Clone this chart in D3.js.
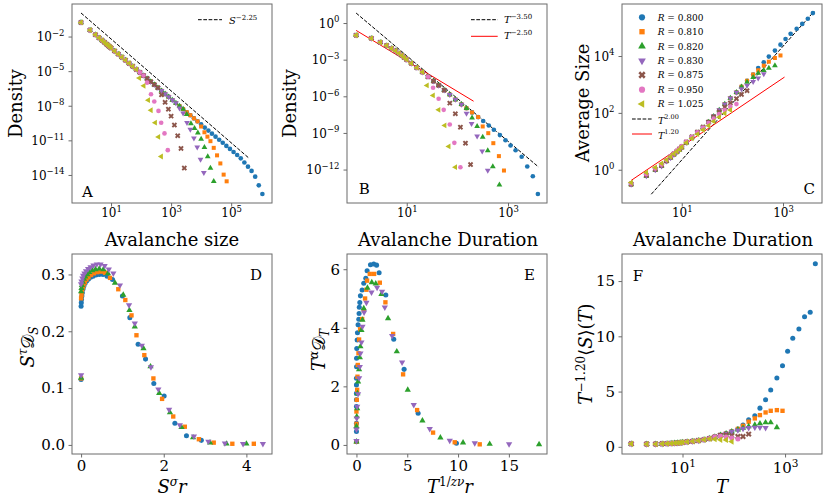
<!DOCTYPE html>
<html>
<head>
<meta charset="utf-8">
<script src="https://d3js.org/d3.v7.min.js"></script>
<style>
  body { margin: 0; background: #ffffff; }
</style>
</head>
<body>
<svg id="mainsvg" width="828" height="504" font-family="'DejaVu Serif', serif" style="background-color: #ffffff;"></svg>
<script>
// ---------------- data ----------------
const rLabels = ['0.800', '0.810', '0.820', '0.830', '0.875', '0.950', '1.025'];

// A: log10 avalanche size bins and log10 density of R = 0.800 (the longest curve)
const aLogSize = [0, 0.30, 0.48, 0.60, 0.70, 0.78, 0.85, 0.90, 0.95, 1.00,
  1.12, 1.24, 1.36, 1.48, 1.60, 1.72, 1.84, 1.96, 2.08, 2.20, 2.32, 2.44, 2.56, 2.68, 2.80,
  2.92, 3.04, 3.16, 3.28, 3.40, 3.52, 3.64, 3.76, 3.88, 4.00, 4.12, 4.24, 4.36, 4.48, 4.60,
  4.72, 4.84, 4.96, 5.08, 5.20, 5.32, 5.44, 5.56, 5.68, 5.80, 5.92, 6.04];
const aLogDensity = [-0.78, -1.44, -1.84, -2.11, -2.33, -2.50, -2.66, -2.77, -2.88, -2.99,
  -3.26, -3.52, -3.79, -4.05, -4.32, -4.58, -4.85, -5.11, -5.38, -5.64, -5.91, -6.17, -6.44, -6.70, -6.97,
  -7.23, -7.50, -7.76, -8.03, -8.29, -8.56, -8.82, -9.09, -9.35, -9.62, -9.89, -10.15, -10.42, -10.68, -10.95,
  -11.21, -11.48, -11.74, -12.01, -12.27, -12.56, -12.92, -13.28, -13.65, -14.15, -14.90, -15.65];
// how many bins of the common curve each R shares, then its own cut-off points [logS, logP]
const aKeep = [52, 34, 30, 28, 23, 19, 17];
const aTails = [
  [],
  [[4.00, -9.80], [4.11, -10.30], [4.21, -10.68], [4.31, -11.07], [4.42, -11.65], [4.53, -12.30], [4.64, -13.00], [4.75, -13.97], [4.85, -14.55]],
  [[3.52, -8.75], [3.66, -9.55], [3.78, -9.95], [3.89, -10.35], [4.00, -10.90], [4.11, -11.60], [4.22, -12.40], [4.31, -13.40], [4.42, -14.55]],
  [[3.28, -8.20], [3.40, -8.65], [3.53, -9.47], [3.64, -10.05], [3.76, -10.80], [3.87, -11.60], [3.98, -12.66], [4.09, -13.80]],
  [[2.68, -7.05], [2.80, -7.70], [2.91, -8.30], [3.00, -8.90], [3.11, -9.67], [3.22, -10.60], [3.33, -11.70], [3.44, -13.40]],
  [[2.20, -6.00], [2.33, -7.00], [2.44, -7.63], [2.58, -8.45], [2.67, -9.47], [2.78, -10.40], [2.89, -11.85]],
  [[1.94, -5.60], [2.09, -6.27], [2.24, -7.52], [2.33, -8.39], [2.47, -9.47], [2.58, -10.70], [2.67, -12.40]]
];

// B, C, F share the log10 duration bins
const logDurBins = [0, 0.301, 0.477, 0.602, 0.699, 0.778, 0.845, 0.903, 0.954, 1.0,
  1.09, 1.20, 1.31, 1.42, 1.53, 1.63, 1.74, 1.85, 1.96, 2.08, 2.18, 2.29, 2.41, 2.51,
  2.62, 2.72, 2.84, 2.95, 3.05, 3.15, 3.27, 3.38, 3.49, 3.59];

// B: log10 duration density, R = 0.800
const bLogDensity = [-1.00, -1.25, -1.58, -1.84, -2.08, -2.28, -2.48, -2.65, -2.83, -3.00,
  -3.30, -3.66, -4.02, -4.40, -4.76, -5.10, -5.50, -5.86, -6.26, -6.66, -6.98, -7.32, -7.70, -8.02,
  -8.39, -8.74, -9.18, -9.60, -10.03, -10.42, -10.95, -11.75, -12.55, -14.00];
const bKeep = [34, 23, 21, 20, 17, 14, 13];
const bTails = [
  [],
  [[2.50, -8.47], [2.61, -9.02], [2.71, -9.84], [2.82, -10.90], [2.92, -12.08]],
  [[2.29, -7.76], [2.39, -8.47], [2.50, -9.35], [2.60, -10.44], [2.70, -11.75], [2.83, -13.25]],
  [[2.18, -7.40], [2.28, -8.25], [2.39, -9.27], [2.49, -10.50], [2.60, -12.08]],
  [[1.85, -6.56], [1.96, -7.43], [2.06, -8.53], [2.16, -9.84], [2.26, -11.59]],
  [[1.52, -5.30], [1.63, -6.20], [1.73, -7.11], [1.85, -8.31], [1.94, -9.81], [2.06, -11.81]],
  [[1.40, -5.11], [1.52, -5.93], [1.63, -7.11], [1.75, -8.39], [1.83, -10.11], [1.96, -11.81]]
];

// C: log10 average size per duration bin, R = 0.800; other R share the first cKeep bins
const cLogSize = [-0.52, -0.22, -0.01, 0.13, 0.30, 0.42, 0.53, 0.62, 0.70, 0.78,
  0.95, 1.13, 1.30, 1.48, 1.68, 1.88, 2.10, 2.31, 2.52, 2.72, 2.92, 3.13, 3.35, 3.58,
  3.78, 3.98, 4.19, 4.40, 4.60, 4.78, 4.96, 5.13, 5.31, 5.51];
const cKeep = [34, 22, 21, 20, 0, 0, 0];
const cTailVals = [
  [],
  [3.35, 3.50, 3.66, 3.80, 3.93, 4.02],
  [3.08, 3.25, 3.40, 3.50, 3.58, 3.66],
  [2.84, 2.97, 3.10, 3.22, 3.37],
  [-0.50, -0.19, 0.02, 0.16, 0.32, 0.45, 0.56, 0.65, 0.73, 0.81, 0.98, 1.16, 1.33, 1.50, 1.68, 1.86, 2.04, 2.20, 2.35, 2.50, 2.65, 2.78],
  [-0.48, -0.16, 0.04, 0.18, 0.34, 0.47, 0.58, 0.67, 0.75, 0.83, 0.99, 1.16, 1.32, 1.48, 1.64, 1.80, 1.96, 2.10, 2.22, 2.31],
  [-0.45, -0.10, 0.08, 0.22, 0.35, 0.46, 0.56, 0.64, 0.72, 0.80, 0.95, 1.10, 1.25, 1.40, 1.55, 1.70, 1.85, 1.98, 2.10]
];

// F: T^-1.20 <S>(T), R = 0.800, and the cut-offs of the others
const fScaled = [0.27, 0.25, 0.25, 0.27, 0.29, 0.31, 0.33, 0.35, 0.37, 0.40,
  0.45, 0.50, 0.57, 0.65, 0.76, 0.90, 1.05, 1.20, 1.38, 1.62, 1.98, 2.45, 2.81, 3.50,
  4.26, 5.14, 6.22, 7.34, 8.64, 9.82, 10.66, 11.78, 12.18, 16.56];
const fKeep = [34, 20, 19, 19, 17, 16, 14];
const fTailVals = [
  [],
  [1.90, 2.27, 2.57, 2.87, 3.11, 3.26, 3.32, 3.26],
  [1.55, 1.70, 1.85, 1.99, 2.11, 2.20, 2.20, 1.75],
  [1.50, 1.65, 1.72, 1.75, 1.75, 1.72],
  [1.08, 1.00, 0.94, 0.94, 1.15],
  [0.95, 0.88, 0.79, 0.70],
  [0.72, 0.69, 0.64, 0.62, 0.48]
];

// D: size collapse [S^sigma r, S^tau D_S] for the first four R
const dSeries = [
  [[0, 0.115], [0, 0.244], [0.005, 0.250], [0.01, 0.256], [0.02, 0.262], [0.03, 0.268], [0.05, 0.275], [0.07, 0.280], [0.10, 0.285], [0.14, 0.289], [0.18, 0.292], [0.23, 0.295], [0.29, 0.297], [0.36, 0.299], [0.44, 0.300], [0.53, 0.300], [0.63, 0.297], [0.76, 0.291], [1.00, 0.262], [1.18, 0.224], [1.38, 0.177], [1.56, 0.151], [1.76, 0.108], [2.01, 0.086], [2.27, 0.038], [2.55, 0.016], [2.91, 0.008]],
  [[0, 0.117], [0, 0.258], [0.01, 0.264], [0.02, 0.270], [0.04, 0.276], [0.06, 0.281], [0.09, 0.286], [0.13, 0.291], [0.18, 0.295], [0.24, 0.299], [0.31, 0.302], [0.39, 0.304], [0.48, 0.305], [0.58, 0.303], [0.70, 0.294], [0.90, 0.274], [1.07, 0.255], [1.22, 0.228], [1.34, 0.193], [1.53, 0.158], [1.75, 0.117], [1.96, 0.081], [2.23, 0.050], [2.51, 0.032], [2.85, 0.010], [3.21, 0.004], [3.66, 0.002], [4.18, 0.002]],
  [[0, 0.118], [0, 0.270], [0.01, 0.276], [0.02, 0.281], [0.04, 0.287], [0.07, 0.292], [0.10, 0.296], [0.15, 0.300], [0.20, 0.304], [0.27, 0.307], [0.35, 0.309], [0.44, 0.310], [0.54, 0.309], [0.65, 0.302], [0.82, 0.285], [1.02, 0.264], [1.17, 0.237], [1.30, 0.208], [1.51, 0.170], [1.68, 0.138], [1.89, 0.091], [2.15, 0.057], [2.43, 0.031], [2.71, 0.013], [3.12, 0.004], [3.52, 0.002], [4.00, 0.002]],
  [[0, 0.123], [0, 0.283], [0.01, 0.288], [0.03, 0.293], [0.05, 0.298], [0.08, 0.302], [0.12, 0.306], [0.17, 0.310], [0.23, 0.313], [0.30, 0.316], [0.38, 0.318], [0.47, 0.318], [0.57, 0.315], [0.67, 0.309], [0.78, 0.302], [0.94, 0.281], [1.16, 0.246], [1.30, 0.214], [1.47, 0.175], [1.69, 0.137], [1.87, 0.098], [2.13, 0.062], [2.39, 0.035], [2.73, 0.015], [3.08, 0.006], [3.48, 0.003], [3.92, 0.002], [4.40, 0.002]]
];

// E: duration collapse [T^(1/z nu) r, T^alpha D_T]
const eSeries = [
  [[0, 0.11], [0, 0.46], [0, 0.74], [0, 1.31], [0, 1.54], [0, 1.76], [0, 2.05], [0, 2.28], [0.01, 2.67], [0.01, 2.96], [0.03, 3.29], [0.07, 3.58], [0.10, 3.83], [0.16, 4.10], [0.23, 4.29], [0.26, 4.49], [0.28, 4.70], [0.33, 4.86], [0.39, 5.09], [0.56, 5.29], [0.72, 5.52], [0.92, 5.69], [1.05, 5.95], [1.38, 6.15], [1.70, 6.18], [1.98, 6.14], [2.23, 5.88], [2.89, 5.12], [3.67, 3.61], [4.69, 2.58], [6.07, 1.08], [9.84, 0.06]],
  [[0, 0.11], [0, 0.72], [0, 1.14], [0.03, 1.54], [0.07, 1.88], [0.10, 2.33], [0.13, 2.73], [0.20, 3.13], [0.26, 3.60], [0.36, 3.95], [0.56, 4.30], [0.72, 4.60], [0.85, 5.00], [0.98, 5.30], [1.05, 5.61], [1.31, 5.84], [1.74, 5.84], [2.30, 5.54], [2.85, 4.87], [3.61, 3.79], [4.59, 2.41], [5.97, 1.19], [7.54, 0.42], [9.67, 0.09], [12.13, 0.02]],
  [[0, 0.11], [0, 0.63], [0.03, 0.97], [0.07, 1.25], [0.10, 1.76], [0.16, 2.16], [0.26, 2.58], [0.33, 2.99], [0.39, 3.36], [0.49, 3.92], [0.59, 4.27], [0.72, 4.66], [1.08, 5.36], [1.51, 5.55], [1.90, 5.51], [2.46, 5.15], [3.11, 4.32], [3.97, 3.19], [5.05, 1.88], [6.49, 0.83], [8.26, 0.25], [10.49, 0.08], [13.11, 0.03], [17.97, 0.02]],
  [[0, 0.14], [0, 0.53], [0.03, 0.91], [0.07, 1.31], [0.16, 1.74], [0.26, 2.28], [0.33, 2.67], [0.39, 3.13], [0.49, 3.50], [0.59, 4.04], [0.75, 4.53], [0.98, 4.86], [1.48, 5.21], [2.03, 5.37], [2.52, 5.24], [2.79, 4.70], [3.51, 3.73], [4.49, 2.82], [5.64, 1.37], [7.21, 0.55], [9.18, 0.15], [11.64, 0.06], [15.02, 0.03]]
];

// guide power laws: [prefactor, exponent, x from, x to]
const guideA = [1.1, -2.25, 1, 3.7e5];
const guideB = [[6.6, -3.5, 1, 4.0e3], [0.25, -2.5, 1, 209]];
const guideC = [[0.022, 2.0, 2.5, 4.1e3], [0.42, 1.2, 1, 1070]];

// ---------------- style ----------------
const svg = d3.select('#mainsvg');
const seriesColors = ['#1f77b4', '#ff7f0e', '#2ca02c', '#9467bd', '#8c564b', '#e377c2', '#bcbd22'];
const markerTypes = [d3.symbolCircle, d3.symbolSquare, d3.symbolTriangle, d3.symbolTriangle, d3.symbolCross, d3.symbolCircle, d3.symbolTriangle];
const markerRotate = [0, 0, 0, 180, 45, 0, -90];
const markerScale = [1, 0.95, 0.85, 0.85, 1.1, 1, 0.85];
const frameColor = '#6b6b6b';
const W = 200;
const topBox = {top: 4, h: 199};
const botBox = {top: 254, h: 200};
const labelSize = 18;   // axis titles
const supSize = 12;     // exponents inside axis titles

function panel(left, box) {
  return svg.append('g').attr('transform', `translate(${left},${box.top})`);
}

function frame(g, h) {
  g.append('rect').attr('width', W).attr('height', h)
    .attr('fill', 'none').attr('stroke', frameColor).attr('stroke-width', 1);
}

function scatter(g, pts, i, xs, ys, area) {
  const sym = d3.symbol().type(markerTypes[i]).size(area * markerScale[i]);
  g.append('g').selectAll('path').data(pts).join('path')
    .attr('d', sym)
    .attr('transform', d => `translate(${xs(d[0])},${ys(d[1])}) rotate(${markerRotate[i]})`)
    .attr('fill', seriesColors[i]);
}

function cleanAxis(a) {
  a.attr('font-family', null).attr('font-size', null);
  a.select('.domain').remove();
  a.selectAll('.tick line').attr('stroke', frameColor);
}

function powLabel(t, v, sfs, supDy) {
  const e = Math.round(Math.log10(v));
  t.append('tspan').text('10');
  t.append('tspan').attr('font-size', sfs).attr('dy', supDy).text(e < 0 ? '\u2212' + (-e) : String(e));
}

function logX(g, xs, h, exps, fs, sfs, base, supDy) {
  const ag = g.append('g').attr('transform', `translate(0,${h})`)
    .call(d3.axisBottom(xs).tickValues(exps.map(e => Math.pow(10, e))).tickSize(3.5).tickFormat(() => ''));
  cleanAxis(ag);
  ag.selectAll('.tick text').remove();
  ag.selectAll('.tick').append('text')
    .attr('text-anchor', 'middle').attr('y', base).attr('font-size', fs).attr('fill', '#000')
    .each(function (d) { powLabel(d3.select(this), d, sfs, supDy); });
}

function logY(g, ys, exps, fs, sfs, supDy) {
  const ag = g.append('g')
    .call(d3.axisLeft(ys).tickValues(exps.map(e => Math.pow(10, e))).tickSize(3.5).tickFormat(() => ''));
  cleanAxis(ag);
  ag.selectAll('.tick text').remove();
  ag.selectAll('.tick').append('text')
    .attr('text-anchor', 'end').attr('x', -7.5).attr('y', 4.3).attr('font-size', fs).attr('fill', '#000')
    .each(function (d) { powLabel(d3.select(this), d, sfs, supDy); });
}

function linAxes(g, xs, ys, h, xt, yt, xfmt, yfmt) {
  const xa = g.append('g').attr('transform', `translate(0,${h})`)
    .call(d3.axisBottom(xs).tickValues(xt).tickSize(3.5).tickPadding(3).tickFormat(xfmt));
  const ya = g.append('g')
    .call(d3.axisLeft(ys).tickValues(yt).tickSize(3.5).tickPadding(3.5).tickFormat(yfmt));
  [xa, ya].forEach(a => {
    cleanAxis(a);
    a.selectAll('.tick text').attr('font-size', 15).attr('fill', '#000');
  });
}

// rich text: parts = [{t, i (italic), fs, dy}]
function rich(x, y, parts, size, anchor, rotate) {
  const t = svg.append('text').attr('font-size', size).attr('text-anchor', anchor || 'middle')
    .attr('transform', `translate(${x},${y})` + (rotate ? ' rotate(-90)' : ''));
  parts.forEach(p => {
    const s = t.append('tspan').text(p.t);
    if (p.i) s.attr('font-style', 'italic');
    if (p.fs) s.attr('font-size', p.fs);
    if (p.dy) s.attr('dy', p.dy);
  });
  return t;
}

function guide(g, xs, ys, gd, color, dash) {
  const [c, k, x0, x1] = gd;
  g.append('path')
    .attr('d', d3.line()([[xs(x0), ys(c * Math.pow(x0, k))], [xs(x1), ys(c * Math.pow(x1, k))]]))
    .attr('stroke', color).attr('stroke-width', 1).attr('fill', 'none')
    .attr('stroke-dasharray', dash ? '3.7,1.6' : null);
}

function legendLine(g, x0, x1, y, color, dash, textX, base, letter, sup, fs, sfs) {
  g.append('line').attr('x1', x0).attr('x2', x1).attr('y1', y).attr('y2', y)
    .attr('stroke', color).attr('stroke-width', 1).attr('stroke-dasharray', dash ? '3.7,1.6' : null);
  const t = g.append('text').attr('x', textX).attr('y', base).attr('font-size', fs);
  t.append('tspan').attr('font-style', 'italic').text(letter);
  t.append('tspan').attr('font-size', sfs).attr('dy', -4.5).text(sup);
}

const pow10 = p => [Math.pow(10, p[0]), Math.pow(10, p[1])];

// ---------------- A ----------------
{
  const g = panel(72, topBox);
  const xs = d3.scaleLog().domain([Math.pow(10, -0.30), Math.pow(10, 6.36)]).range([0, W]);
  const ys = d3.scaleLog().domain([Math.pow(10, -16.43), Math.pow(10, 0.82)]).range([topBox.h, 0]);
  guide(g, xs, ys, guideA, '#000', true);
  rLabels.forEach((r, i) => {
    const pts = aLogSize.slice(0, aKeep[i]).map((s, j) => [s, aLogDensity[j]]).concat(aTails[i]);
    scatter(g, pts.map(pow10), i, xs, ys, 17);
  });
  logX(g, xs, topBox.h, [1, 3, 5], 12, 8.5, 13.5, -4.5);
  logY(g, ys, [-2, -5, -8, -11, -14], 12, 8.5, -5.5);
  legendLine(g, 126, 150, 15.7, '#000', true, 157, 20.3, 'S', '\u22122.25', 10, 7);
  g.append('text').attr('x', 10).attr('y', 192.7).attr('font-size', 15).text('A');
  frame(g, topBox.h);
  rich(22, 103.5, [{t: 'Density'}], labelSize, 'middle', true);
  rich(172, 246, [{t: 'Avalanche size'}], labelSize);
}

// ---------------- B ----------------
{
  const g = panel(347, topBox);
  const xs = d3.scaleLog().domain([Math.pow(10, -0.18), Math.pow(10, 3.77)]).range([0, W]);
  const ys = d3.scaleLog().domain([Math.pow(10, -14.74), Math.pow(10, 1.56)]).range([topBox.h, 0]);
  guide(g, xs, ys, guideB[0], '#000', true);
  guide(g, xs, ys, guideB[1], '#ff0000', false);
  rLabels.forEach((r, i) => {
    const pts = logDurBins.slice(0, bKeep[i]).map((t, j) => [t, bLogDensity[j]]).concat(bTails[i]);
    scatter(g, pts.map(pow10), i, xs, ys, 17);
  });
  logX(g, xs, topBox.h, [1, 3], 12, 8.5, 13.5, -4.5);
  logY(g, ys, [0, -3, -6, -9, -12], 12, 8.5, -5.5);
  legendLine(g, 124, 150.7, 15.7, '#000', true, 157, 19.3, 'T', '\u22123.50', 10, 7);
  legendLine(g, 124, 150.7, 32.3, '#ff0000', false, 157, 35, 'T', '\u22122.50', 10, 7);
  g.append('text').attr('x', 11.7).attr('y', 190).attr('font-size', 15).text('B');
  frame(g, topBox.h);
  rich(296, 103.5, [{t: 'Density'}], labelSize, 'middle', true);
  rich(448, 246, [{t: 'Avalanche Duration'}], labelSize);
}

// ---------------- C ----------------
{
  const g = panel(622, topBox);
  const xs = d3.scaleLog().domain([Math.pow(10, -0.18), Math.pow(10, 3.77)]).range([0, W]);
  const ys = d3.scaleLog().domain([Math.pow(10, -1.17), Math.pow(10, 5.83)]).range([topBox.h, 0]);
  guide(g, xs, ys, guideC[0], '#000', true);
  guide(g, xs, ys, guideC[1], '#ff0000', false);
  rLabels.forEach((r, i) => {
    const head = logDurBins.slice(0, cKeep[i]).map((t, j) => [t, cLogSize[j]]);
    const tail = cTailVals[i].map((v, j) => [logDurBins[cKeep[i] + j], v]);
    scatter(g, head.concat(tail).map(pow10), i, xs, ys, 17);
  });
  logX(g, xs, topBox.h, [1, 3], 12, 8.5, 13.5, -4.5);
  logY(g, ys, [0, 2, 4], 12, 8.5, -5.5);
  // legend
  const rowY = [13.3, 27.7, 42.3, 56.7, 71, 85.7, 100];
  rLabels.forEach((r, i) => {
    g.append('path')
      .attr('d', d3.symbol().type(markerTypes[i]).size(30 * markerScale[i]))
      .attr('transform', `translate(20,${rowY[i]}) rotate(${markerRotate[i]})`)
      .attr('fill', seriesColors[i]);
    const t = g.append('text').attr('x', 35.7).attr('y', rowY[i] + 3.4).attr('font-size', 9);
    t.append('tspan').attr('font-style', 'italic').text('R');
    t.append('tspan').text(' = ' + r);
  });
  legendLine(g, 10, 30, 115, '#000', true, 36, 119.5, 'T', '2.00', 9.5, 6.5);
  legendLine(g, 10, 30, 130, '#ff0000', false, 36, 134.5, 'T', '1.20', 9.5, 6.5);
  g.append('text').attr('x', 193).attr('y', 190).attr('font-size', 15).attr('text-anchor', 'end').text('C');
  frame(g, topBox.h);
  rich(589, 103, [{t: 'Average Size'}], labelSize, 'middle', true);
  rich(723, 246, [{t: 'Avalanche Duration'}], labelSize);
}

// ---------------- D ----------------
{
  const g = panel(72, botBox);
  const xs = d3.scaleLinear().domain([-0.22, 4.62]).range([0, W]);
  const ys = d3.scaleLinear().domain([-0.016, 0.336]).range([botBox.h, 0]);
  dSeries.forEach((pts, i) => scatter(g, pts, i, xs, ys, 20));
  linAxes(g, xs, ys, botBox.h, [0, 2, 4], [0, 0.1, 0.2, 0.3], d3.format('d'), d3.format('.1f'));
  g.append('text').attr('x', 190).attr('y', 26).attr('font-size', 15).attr('text-anchor', 'end').text('D');
  frame(g, botBox.h);
  rich(34, 347, [{t: 'S', i: 1}, {t: '\u03C4', i: 1, fs: supSize, dy: -7}, {t: '\uD835\uDC9F', dy: 7}, {t: 'S', i: 1, fs: supSize, dy: 4}], labelSize, 'middle', true);
  rich(172, 493, [{t: 'S', i: 1}, {t: '\u03C3', i: 1, fs: supSize, dy: -7}, {t: 'r', i: 1, dy: 7}], labelSize);
}

// ---------------- E ----------------
{
  const g = panel(347, botBox);
  const xs = d3.scaleLinear().domain([-0.93, 18.75]).range([0, W]);
  const ys = d3.scaleLinear().domain([-0.31, 6.52]).range([botBox.h, 0]);
  eSeries.forEach((pts, i) => scatter(g, pts, i, xs, ys, 20));
  linAxes(g, xs, ys, botBox.h, [0, 5, 10, 15], [0, 2, 4, 6], d3.format('d'), d3.format('d'));
  g.append('text').attr('x', 188).attr('y', 26).attr('font-size', 15).attr('text-anchor', 'end').text('E');
  frame(g, botBox.h);
  rich(325, 350, [{t: 'T', i: 1}, {t: '\u03B1', i: 1, fs: supSize, dy: -7}, {t: '\uD835\uDC9F', dy: 7}, {t: 'T', i: 1, fs: supSize, dy: 4}], labelSize, 'middle', true);
  rich(450, 493, [{t: 'T', i: 1}, {t: '1/', fs: supSize, dy: -7}, {t: 'z\u03BD', i: 1, fs: supSize}, {t: 'r', i: 1, dy: 7}], labelSize);
}

// ---------------- F ----------------
{
  const g = panel(622, botBox);
  const xs = d3.scaleLog().domain([Math.pow(10, -0.18), Math.pow(10, 3.72)]).range([0, W]);
  const ys = d3.scaleLinear().domain([-0.65, 17.45]).range([botBox.h, 0]);
  rLabels.forEach((r, i) => {
    const head = logDurBins.slice(0, fKeep[i]).map((t, j) => [Math.pow(10, t), fScaled[j]]);
    const tail = fTailVals[i].map((v, j) => [Math.pow(10, logDurBins[fKeep[i] + j]), v]);
    scatter(g, head.concat(tail), i, xs, ys, 20);
  });
  logX(g, xs, botBox.h, [1, 3], 15, 10.5, 18.5, -6);
  const ya = g.append('g').call(d3.axisLeft(ys).tickValues([0, 5, 10, 15]).tickSize(3.5).tickPadding(3.5));
  cleanAxis(ya);
  ya.selectAll('.tick text').attr('font-size', 15).attr('fill', '#000');
  g.append('text').attr('x', 10.7).attr('y', 26.7).attr('font-size', 15).text('F');
  frame(g, botBox.h);
  rich(592, 354, [{t: 'T', i: 1}, {t: '\u22121.20', fs: supSize, dy: -7}, {t: '\u27E8', dy: 7}, {t: 'S', i: 1}, {t: '\u27E9('}, {t: 'T', i: 1}, {t: ')'}], labelSize, 'middle', true);
  rich(722, 493, [{t: 'T', i: 1}], labelSize);
}
</script>
</body>
</html>
